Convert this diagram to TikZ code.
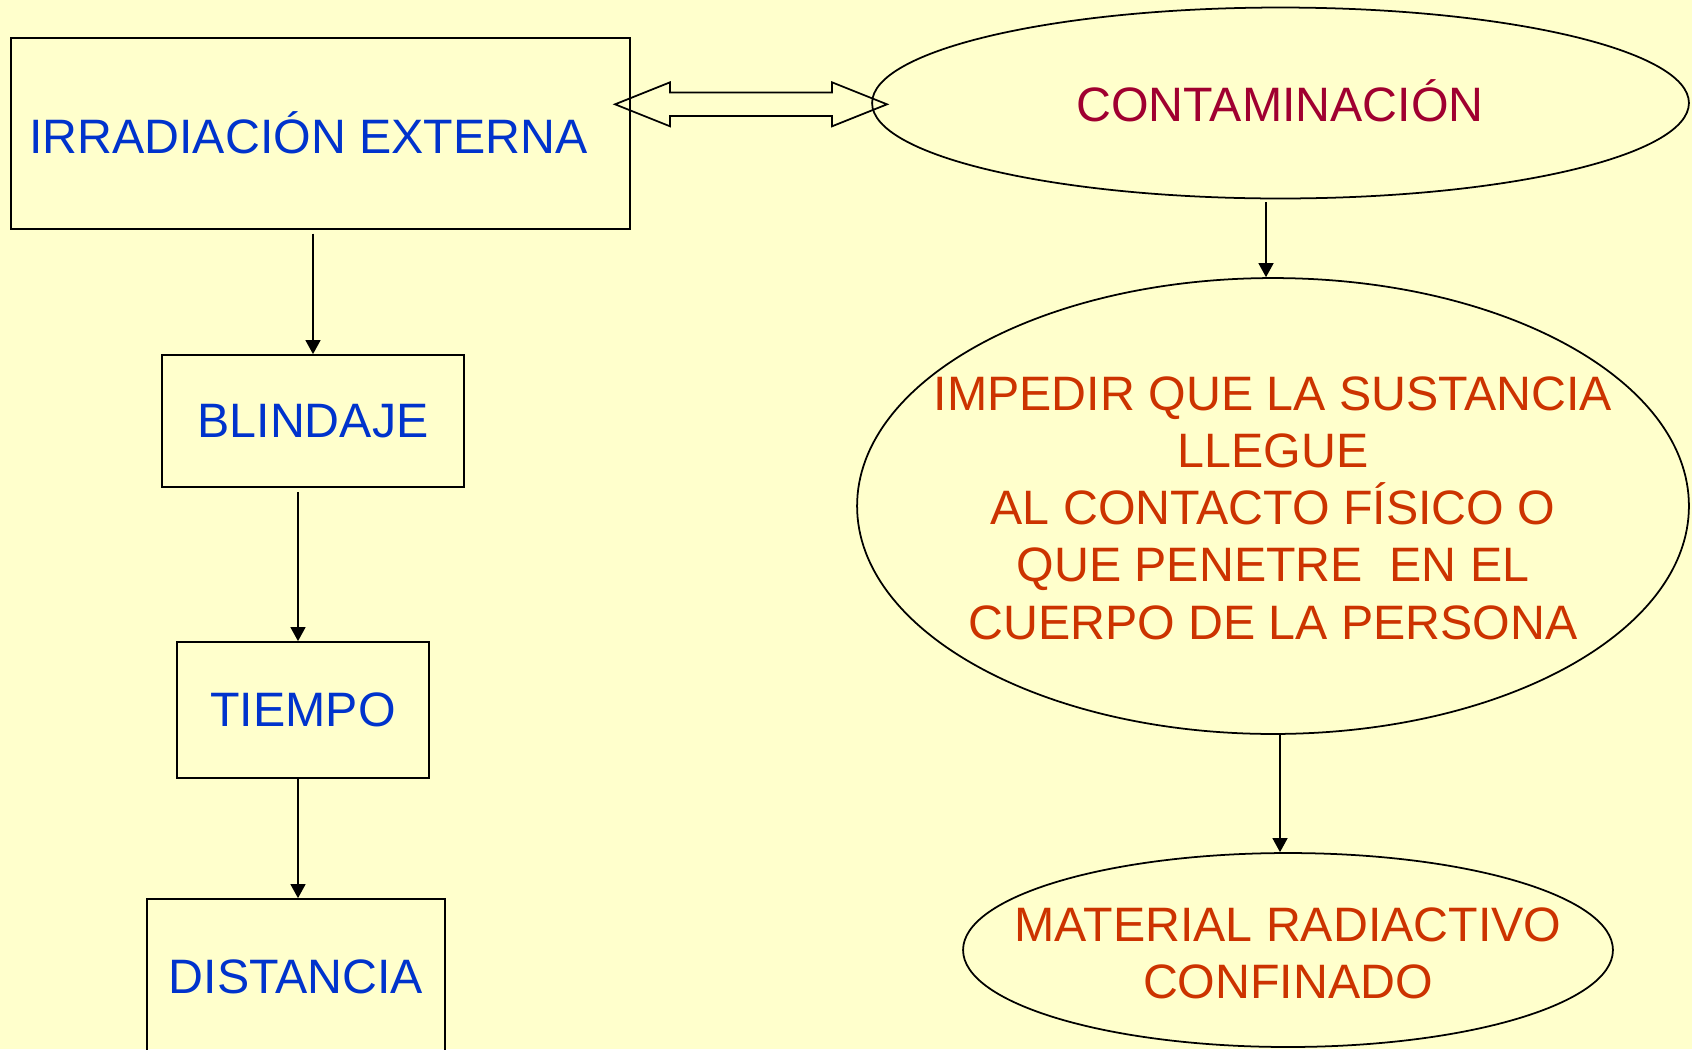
\documentclass[tikz,border=0pt]{standalone}
\usepackage{fontspec}
\setmainfont{Liberation Sans}
\usetikzlibrary{arrows.meta,shapes.geometric}
\definecolor{fondo}{HTML}{FFFFCC}
\definecolor{azul}{HTML}{0033CC}
\definecolor{granate}{HTML}{A00030}
\definecolor{naranja}{HTML}{CC3300}
\tikzset{
  letra/.style={font=\fontsize{27.5}{32.6}\selectfont},
  caja/.style={draw, line width=1pt, rectangle, inner sep=0pt, letra, text=azul},
  elipse/.style={draw, line width=1pt, ellipse, inner sep=0pt},
  flecha/.style={-{Triangle[width=8.5pt,length=8pt]}, line width=1pt},
}

\begin{document}
\begin{tikzpicture}[x=0.02cm, y=-0.02cm]
  \fill[fondo] (0,0) rectangle (1692,1049);
  \useasboundingbox (0,0) rectangle (1692,1049);
  \clip (0,0) rectangle (1692,1049);

  % lado izquierdo: irradiacion externa
  \node (irr) at (320.4,133.2)[caja, minimum width=12.38cm, minimum height=3.82cm]{IRRADIACIÓN EXTERNA\hspace*{0.48cm}};
  \node (blindaje) at (313,421)[caja, minimum width=6.04cm, minimum height=2.64cm]{BLINDAJE};
  \node (tiempo) at (303,710)[caja, minimum width=5.04cm, minimum height=2.72cm]{TIEMPO};
  \node (distancia) at (296,976.5)[caja, minimum width=5.96cm, minimum height=3.1cm]{DISTANCIA};

  \draw [flecha] ([yshift=-0.08cm]blindaje.north |- irr.south) -- (blindaje.north);
  \draw [flecha] ([xshift=-0.1cm,yshift=-0.08cm]tiempo.north |- blindaje.south) -- ([xshift=-0.1cm]tiempo.north);
  \draw [flecha] ([xshift=-0.1cm]tiempo.south) -- ([xshift=-0.1cm]tiempo.south |- distancia.north);

  % lado derecho: contaminacion
  \node (cont) at (1280.5,103)[elipse, minimum width=16.34cm, minimum height=3.82cm]{};
  \node (conttxt) at (1280,101)[letra, text=granate]{CONTAMINACIÓN};
  \node (impedir) at (1273,506)[elipse, minimum width=16.64cm, minimum height=9.12cm]{};
  \node (impedirtxt) at (1273,508)[letra, text=naranja, align=center]{IMPEDIR QUE LA SUSTANCIA\\LLEGUE\\AL CONTACTO FÍSICO O\\QUE PENETRE\ \ EN EL\\CUERPO DE LA PERSONA};
  \node (material) at (1288,950)[elipse, minimum width=13cm, minimum height=3.88cm]{};
  \node (materialtxt) at (1288,953.5)[letra, text=naranja, align=center]{MATERIAL RADIACTIVO\\CONFINADO};

  \draw [flecha] ([xshift=-0.14cm,yshift=-0.06cm]impedir.north |- cont.south) -- ([xshift=-0.14cm]impedir.north);
  \draw [flecha] ([xshift=0.14cm]impedir.south) -- ([xshift=0.14cm]impedir.south |- material.north);

  % flecha doble entre las dos
  \coordinate (izq) at (615,104.3);
  \coordinate (der) at (887,104.3);
  \draw [line width=1pt] (izq) -- ++(55,-22) -- ++(0,10.3) -- ++(162,0) -- ++(0,-10.3) -- (der)
        -- ++(-55,22) -- ++(0,-10.3) -- ++(-162,0) -- ++(0,10.3) -- cycle;
\end{tikzpicture}
\end{document}
